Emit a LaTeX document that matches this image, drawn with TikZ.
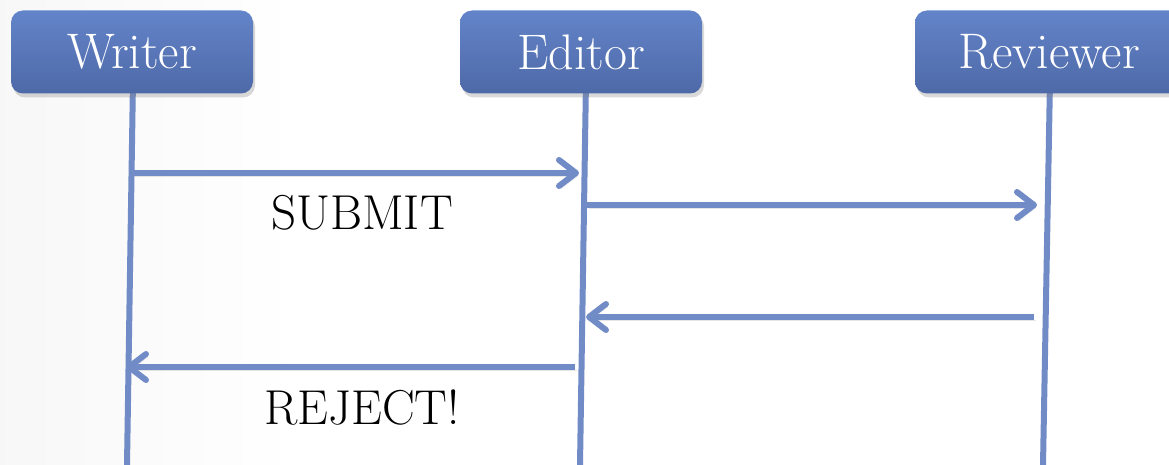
\documentclass[tikz,border=0pt]{standalone}
\usepackage{fontspec}
\usetikzlibrary{arrows.meta,shadows}
\definecolor{lifeblue}{RGB}{112,139,198}
\definecolor{boxtop}{RGB}{99,132,201}
\definecolor{boxbottom}{RGB}{78,105,167}
\def\boxfont{\fontsize{50}{54}\selectfont}
\def\labelfont{\fontsize{49}{53}\selectfont}
\tikzset{
  actor/.style={rounded corners=12pt, top color=boxtop, bottom color=boxbottom,
    text=white, minimum height=83pt, font=\boxfont,
    drop shadow={shadow xshift=2pt, shadow yshift=-4pt, opacity=.3}},
  lineshadow/.style={preaction={draw=black!40, opacity=.25,
    transform canvas={shift={(2pt,-3pt)}}}},
  lifeline/.style={draw=lifeblue, line width=6pt, lineshadow},
  message/.style={lifeline,
    -{Straight Barb[length=17pt,width=26pt,line cap=round,line join=round]}},
  msglabel/.style={font=\labelfont},
}

\begin{document}
\begin{tikzpicture}[x=1pt,y=-1pt]
  % background
  \fill[left color=black!3, right color=white] (0,0) rectangle (300,465);
  \useasboundingbox (0,0) rectangle (1169,465);
  % actors and their lifelines
  \foreach \name/\label/\x/\boxw/\xtop/\xbot in {%
      writer/Writer/132/242/133/127,%
      editor/Editor/581/242/586/580,%
      reviewer/Reviewer/1049/268/1050/1043%
    } {%
      \coordinate (\name-end) at (\xbot,465);
      \coordinate (\name-top) at (\xtop,80);
      \draw[lifeline] (\name-top) -- (\name-end);
      \node[actor, minimum width=\boxw pt] (\name) at (\x,52) {\label};
    };
  % message end points
  \coordinate (w1) at (131,173);
  \coordinate (e1) at (579,173);
  \coordinate (e2) at (587,205);
  \coordinate (r2) at (1037,205);
  \coordinate (r3) at (1034,317);
  \coordinate (e3) at (586,317);
  \coordinate (e4) at (575,367);
  \coordinate (w4) at (126,367);
  \foreach \from/\to in {w1/e1, e2/r2, r3/e3, e4/w4}
    \draw[message] (\from) -- (\to);
  % labels
  \node[msglabel] (submit) at (362,213) {SUBMIT};
  \node[msglabel] (reject) at (362,407) {REJECT!};
\end{tikzpicture}
\end{document}
